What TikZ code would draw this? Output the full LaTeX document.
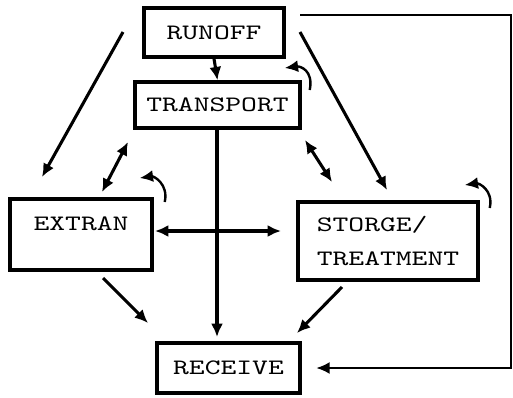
\documentclass[tikz,border=0pt]{standalone}
\usepackage{fontspec}
\newfontfamily\blockfont{lmmono10-regular.otf}[FakeStretch=1.37]
\usetikzlibrary{arrows.meta}
\tikzset{
x=0.75pt, y=-0.75pt, % one unit is one pixel of the sketch, y runs down
>={Latex[length=10pt,width=9pt]}, % makes the arrow heads bold
block/.style={draw, rectangle, line width=2.6pt, inner sep=0pt, font=\blockfont\fontsize{16.5}{26}\selectfont}, % sets the properties for each model block
flow/.style={->, line width=2.3pt}, % a bold directed link
both/.style={<->, line width=2.3pt}, % a bold two way link
iter/.style={->, line width=1.8pt}, % the small loop beside a block
feed/.style={->, line width=1.3pt}, % the thin feedback line
}

\begin{document}
\begin{tikzpicture}
    \useasboundingbox (0,0) rectangle (513,397);
    \node[block, minimum width=105pt, minimum height=36.75pt] (runoff) at (214,32.5) {RUNOFF};
    \node[block, minimum width=123.75pt, minimum height=34.5pt] (transport) at (217.5,105) {TRANSPORT};
    \node[block, minimum width=106.5pt, minimum height=53.25pt, text height=10.5pt, text depth=17.25pt] (extran) at (81,234.5) {EXTRAN};
    \node[block, minimum width=135pt, minimum height=58.5pt, align=left] (storage) at (388,241) {STORGE/\\TREATMENT\hspace{7pt}};
    \node[block, minimum width=107.25pt, minimum height=37.5pt] (receive) at (228.5,368) {RECEIVE};
    % free ends of the links
    \coordinate (ro-l) at (123,32);
    \coordinate (ex-t) at (42,177);
    \coordinate (ro-r) at (300,32);
    \coordinate (st-t) at (387,190);
    \coordinate (tr-l) at (128,142);
    \coordinate (ex-r) at (102,192);
    \coordinate (tr-r) at (305,140);
    \coordinate (st-l) at (332,182);
    \coordinate (ex-e) at (155,231);
    \coordinate (st-w) at (281,231);
    \coordinate (tr-s) at (217,128);
    \coordinate (rc-t) at (217,337);
    \coordinate (ex-b) at (103,278);
    \coordinate (rc-l) at (148,323);
    \coordinate (st-b) at (342,287);
    \coordinate (rc-r) at (297,333);
    \coordinate (fb-s) at (300,15);
    \coordinate (fb-c) at (511,368);
    \draw[flow] (runoff.south) -- (transport.north);
    \draw[flow] (ro-l) -- (ex-t);
    \draw[flow] (ro-r) -- (st-t);
    \draw[both] (tr-l) -- (ex-r);
    \draw[both] (tr-r) -- (st-l);
    \draw[both] (ex-e) -- (st-w);
    \draw[flow] (tr-s) -- (rc-t);
    \draw[flow] (ex-b) -- (rc-l);
    \draw[flow] (st-b) -- (rc-r);
    \draw[feed, shorten >=11pt] (fb-s) -| (fb-c) -- (receive.east);
    % loops of each block
    \draw[iter] (transport.east) ++(8,-15) .. controls +(4,-20) and +(15,-2) .. ++(-25,-22);
    \draw[iter] (extran.east) ++(11,-32.5) .. controls +(4,-18) and +(14,-2) .. ++(-25,-24);
    \draw[iter] (storage.east) ++(10,-33) .. controls +(4,-18) and +(14,-2) .. ++(-25,-23);
\end{tikzpicture}
\end{document}
